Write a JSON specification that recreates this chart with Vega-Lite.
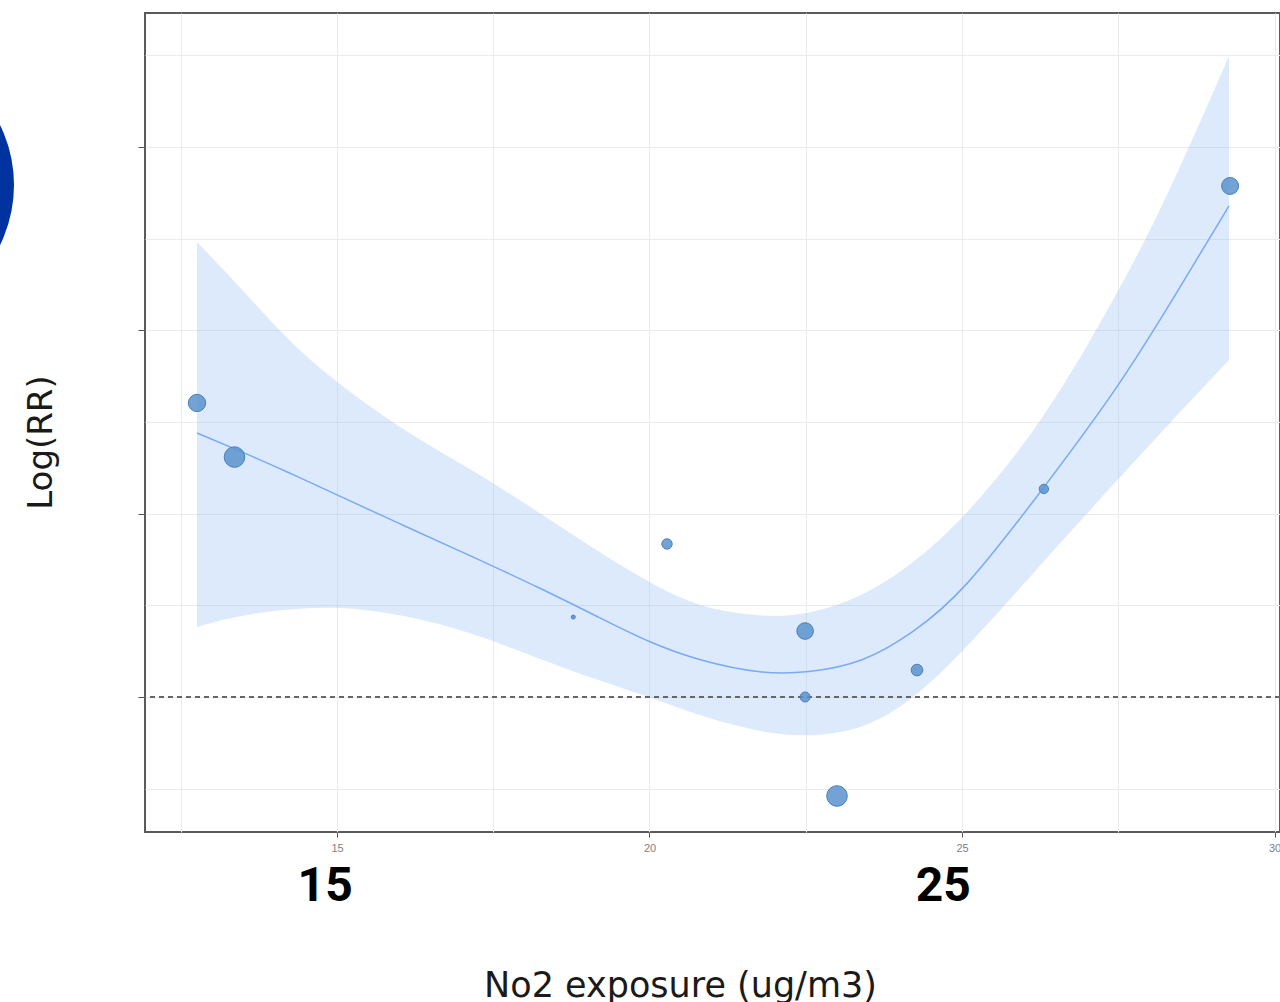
{
  "$schema": "https://vega.github.io/schema/vega-lite/v6.json",
  "width": 1135,
  "height": 819,
  "autosize": {"type": "none"},
  "padding": {"left": 145, "top": 13, "right": 0, "bottom": 170},
  "background": "white",
  "config": {
    "view": {"stroke": "#5a5a5a", "strokeWidth": 2},
    "axis": {"gridColor": "#ebebeb", "gridWidth": 1}
  },
  "datasets": {
    "fit": [
      {"x": 12.76, "fit": 0.1440, "lo": 0.0382, "hi": 0.2482},
      {"x": 13.448, "fit": 0.1342, "lo": 0.0447, "hi": 0.2237},
      {"x": 14.248, "fit": 0.1222, "lo": 0.0480, "hi": 0.1931},
      {"x": 15.0, "fit": 0.1102, "lo": 0.0496, "hi": 0.1713},
      {"x": 16.12, "fit": 0.0927, "lo": 0.0447, "hi": 0.1440},
      {"x": 17.176, "fit": 0.0764, "lo": 0.0349, "hi": 0.1238},
      {"x": 18.248, "fit": 0.0595, "lo": 0.0207, "hi": 0.1004},
      {"x": 19.208, "fit": 0.0431, "lo": 0.0087, "hi": 0.0786},
      {"x": 20.008, "fit": 0.0295, "lo": 0.0, "hi": 0.0622},
      {"x": 20.808, "fit": 0.0196, "lo": -0.0104, "hi": 0.0485},
      {"x": 21.816, "fit": 0.0125, "lo": -0.0196, "hi": 0.0436},
      {"x": 22.52, "fit": 0.0131, "lo": -0.0218, "hi": 0.0447},
      {"x": 23.416, "fit": 0.0185, "lo": -0.0180, "hi": 0.0546},
      {"x": 24.216, "fit": 0.0349, "lo": -0.0016, "hi": 0.0726},
      {"x": 25.016, "fit": 0.0567, "lo": 0.0245, "hi": 0.0966},
      {"x": 26.296, "fit": 0.1135, "lo": 0.0736, "hi": 0.1495},
      {"x": 27.496, "fit": 0.1686, "lo": 0.1189, "hi": 0.2204},
      {"x": 28.28, "fit": 0.2117, "lo": 0.1478, "hi": 0.2722},
      {"x": 29.272, "fit": 0.2679, "lo": 0.1838, "hi": 0.3497}
    ],
    "studies": [
      {"x": 12.76, "logrr": 0.1604, "weight": 75},
      {"x": 13.36, "logrr": 0.1309, "weight": 106},
      {"x": 18.78, "logrr": 0.0436, "weight": 4},
      {"x": 20.28, "logrr": 0.0835, "weight": 27},
      {"x": 22.49, "logrr": 0.0360, "weight": 69},
      {"x": 22.49, "logrr": 0.0, "weight": 25},
      {"x": 23.0, "logrr": -0.0540, "weight": 106},
      {"x": 24.28, "logrr": 0.0147, "weight": 34},
      {"x": 26.31, "logrr": 0.1135, "weight": 22},
      {"x": 29.29, "logrr": 0.2788, "weight": 72}
    ],
    "reference": [
      {"logrr": 0}
    ],
    "biglabels": [
      {"x": 14.81, "y": -0.1037, "label": "15"},
      {"x": 24.70, "y": -0.1037, "label": "25"}
    ],
    "marker": [
      {"x": 7.656, "y": 0.2793}
    ]
  },
  "layer": [
    {
      "data": {"name": "fit"},
      "mark": {"type": "area", "color": "#8fb8f5", "opacity": 0.3, "interpolate": "basis"},
      "encoding": {
        "x": {
          "field": "x", "type": "quantitative",
          "scale": {"domain": [11.928, 30.088], "nice": false, "zero": false},
          "axis": {
            "values": [12.5, 15, 17.5, 20, 22.5, 25, 27.5, 30],
            "format": "d",
            "labelExpr": "datum.value % 5 === 0 ? datum.label : ''",
            "labelFontSize": 11,
            "labelFont": "Liberation Sans",
            "labelColor": "#808080",
            "labelPadding": 5,
            "tickSize": 5,
            "tickColor": "#555555",
            "tickOpacity": {"condition": {"test": "datum.value % 5 === 0", "value": 1}, "value": 0},
            "domain": false,
            "grid": true,
            "title": "No2 exposure (ug/m3)",
            "titleFont": "DejaVu Sans",
            "titleFontSize": 35,
            "titleFontWeight": "normal",
            "titleColor": "#1a1a1a",
            "titleAnchor": null,
            "titleAlign": "center",
            "titleBaseline": "alphabetic",
            "titleX": 535,
            "titleY": 164
          }
        },
        "y": {
          "field": "lo", "type": "quantitative",
          "scale": {"domain": [-0.07365, 0.37316], "nice": false, "zero": false},
          "axis": {
            "values": [-0.05, 0, 0.05, 0.1, 0.15, 0.2, 0.25, 0.3, 0.35],
            "labels": false,
            "tickSize": 7,
            "tickColor": "#555555",
            "tickOpacity": {"condition": {"test": "abs(datum.value * 10 - round(datum.value * 10)) < 0.001", "value": 1}, "value": 0},
            "domain": false,
            "grid": true,
            "title": "Log(RR)",
            "titleFont": "DejaVu Sans",
            "titleFontSize": 34,
            "titleFontWeight": "normal",
            "titleColor": "#1a1a1a",
            "titleAnchor": null,
            "titleAlign": "center",
            "titleBaseline": "alphabetic",
            "titleAngle": -90,
            "titleX": -94,
            "titleY": 429
          }
        },
        "y2": {"field": "hi"}
      }
    },
    {
      "data": {"name": "fit"},
      "mark": {"type": "line", "color": "#78aaf5", "strokeWidth": 1.5, "interpolate": "basis"},
      "encoding": {
        "x": {"field": "x", "type": "quantitative", "scale": {"domain": [11.928, 30.088], "nice": false, "zero": false}},
        "y": {"field": "fit", "type": "quantitative", "scale": {"domain": [-0.07365, 0.37316], "nice": false, "zero": false}}
      }
    },
    {
      "data": {"name": "reference"},
      "mark": {"type": "rule", "color": "#666666", "strokeWidth": 2, "strokeDash": [5, 4]},
      "encoding": {
        "y": {"field": "logrr", "type": "quantitative", "scale": {"domain": [-0.07365, 0.37316], "nice": false, "zero": false}}
      }
    },
    {
      "data": {"name": "studies"},
      "mark": {"type": "point", "shape": "circle", "filled": true, "color": "#5b93cc", "fillOpacity": 0.85, "stroke": "#4a80bb", "strokeWidth": 1},
      "encoding": {
        "x": {"field": "x", "type": "quantitative", "scale": {"domain": [11.928, 30.088], "nice": false, "zero": false}},
        "y": {"field": "logrr", "type": "quantitative", "scale": {"domain": [-0.07365, 0.37316], "nice": false, "zero": false}},
        "size": {"field": "weight", "type": "quantitative", "scale": {"type": "linear", "domain": [0, 100], "range": [0, 400], "zero": true}, "legend": null}
      }
    },
    {
      "data": {"name": "biglabels"},
      "mark": {"type": "text", "font": "Roboto", "fontWeight": 700, "fontSize": 48, "color": "#000000", "baseline": "middle", "align": "center"},
      "encoding": {
        "x": {"field": "x", "type": "quantitative", "scale": {"domain": [11.928, 30.088], "nice": false, "zero": false}},
        "y": {"field": "y", "type": "quantitative", "scale": {"domain": [-0.07365, 0.37316], "nice": false, "zero": false}},
        "text": {"field": "label"}
      }
    },
    {
      "data": {"name": "marker"},
      "mark": {"type": "point", "shape": "circle", "filled": true, "color": "#0033a0", "opacity": 1, "size": 74000},
      "encoding": {
        "x": {"field": "x", "type": "quantitative", "scale": {"domain": [11.928, 30.088], "nice": false, "zero": false}},
        "y": {"field": "y", "type": "quantitative", "scale": {"domain": [-0.07365, 0.37316], "nice": false, "zero": false}}
      }
    }
  ]
}
